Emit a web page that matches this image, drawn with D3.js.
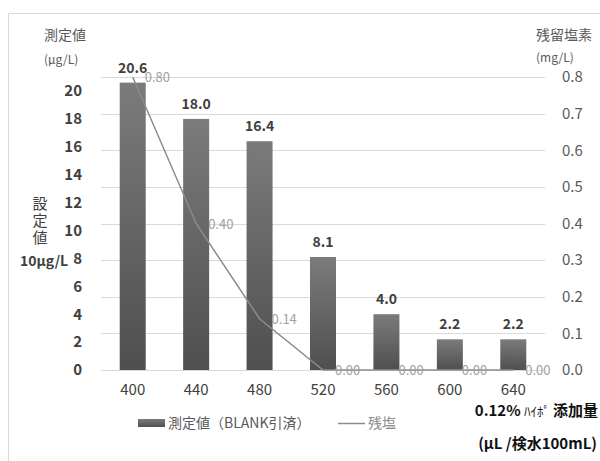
<!DOCTYPE html>
<html>
<head>
<meta charset="utf-8">
<style>
    body { margin: 0; background: #fff; }
    svg text { font-family: "Noto Sans CJK JP", "Noto Sans", sans-serif; }
</style>
</head>
<body>
<script src="https://cdn.jsdelivr.net/npm/d3@7"></script>
<script>
    // data
    var categories = ["400", "440", "480", "520", "560", "600", "640"];
    var measured = [20.6, 18.0, 16.4, 8.1, 4.0, 2.2, 2.2];          // μg/L
    var residual = [0.80, 0.40, 0.14, 0.00, 0.00, 0.00, 0.00];       // mg/L
    var leftTicks = [0, 2, 4, 6, 8, 10, 12, 14, 16, 18, 20];
    var rightTicks = [0, 0.1, 0.2, 0.3, 0.4, 0.5, 0.6, 0.7, 0.8];

    var width = 600, height = 461;

    var svg = d3.select("body").append("svg")
        .attr("width", width)
        .attr("height", height);

    // outer chart border (only top and left visible)
    svg.append("path")
        .attr("d", "M8.5,461V13.5H600")
        .attr("fill", "none")
        .attr("stroke", "#d9d9d9");

    var x = d3.scaleBand().domain(categories).range([101, 545]).paddingInner(0).paddingOuter(0);
    var yL = d3.scaleLinear().domain([0, 20]).range([370, 91]);
    var yR = d3.scaleLinear().domain([0, 0.8]).range([370, 77]);
    var barW = 26;

    var defs = svg.append("defs");
    var grad = defs.append("linearGradient").attr("id", "barGrad")
        .attr("x1", 0).attr("y1", 0).attr("x2", 0).attr("y2", 1);
    grad.append("stop").attr("offset", "0%").attr("stop-color", "#7b7b7b");
    grad.append("stop").attr("offset", "100%").attr("stop-color", "#4f4f4f");

    // gridlines follow the right axis
    svg.append("g").selectAll("line")
        .data(rightTicks)
        .enter().append("line")
        .attr("x1", 101).attr("x2", 545)
        .attr("y1", function (d) { return Math.round(yR(d)) + 0.5; })
        .attr("y2", function (d) { return Math.round(yR(d)) + 0.5; })
        .attr("stroke", "#d9d9d9")
        .attr("stroke-width", 1);

    // left axis
    var leftAxis = svg.append("g")
        .attr("transform", "translate(101,0)")
        .call(d3.axisLeft(yL).tickValues(leftTicks).tickSize(0).tickPadding(19));
    leftAxis.select(".domain").remove();
    leftAxis.selectAll("text")
        .attr("fill", "#404040")
        .style("font-size", "15px")
        .style("font-weight", "bold");

    // right axis
    var rightAxis = svg.append("g")
        .attr("transform", "translate(545,0)")
        .call(d3.axisRight(yR).tickValues(rightTicks).tickSize(0).tickPadding(17).tickFormat(d3.format(".1f")));
    rightAxis.select(".domain").remove();
    rightAxis.selectAll("text")
        .attr("fill", "#595959")
        .style("font-size", "15px");

    // bottom axis
    var bottomAxis = svg.append("g")
        .attr("transform", "translate(0,370)")
        .call(d3.axisBottom(x).tickSize(0).tickPadding(14));
    bottomAxis.select(".domain").remove();
    bottomAxis.selectAll("text")
        .attr("fill", "#404040")
        .style("font-size", "15px");

    // bars
    var bars = svg.append("g");
    bars.selectAll("rect")
        .data(measured)
        .enter().append("rect")
        .attr("x", function (d, i) { return x(categories[i]) + x.bandwidth() / 2 - barW / 2; })
        .attr("y", function (d) { return yL(d); })
        .attr("width", barW)
        .attr("height", function (d) { return yL(0) - yL(d); })
        .attr("fill", "url(#barGrad)");

    bars.selectAll("text")
        .data(measured)
        .enter().append("text")
        .attr("x", function (d, i) { return x(categories[i]) + x.bandwidth() / 2; })
        .attr("y", function (d) { return yL(d) - 10; })
        .attr("text-anchor", "middle")
        .attr("fill", "#404040")
        .style("font-size", "14px")
        .style("font-weight", "bold")
        .text(function (d) { return d.toFixed(1); });

    // residual chlorine line
    var line = d3.line()
        .x(function (d, i) { return x(categories[i]) + x.bandwidth() / 2; })
        .y(function (d) { return yR(d); });

    svg.append("path")
        .datum(residual)
        .attr("d", line)
        .attr("fill", "none")
        .attr("stroke", "#8c8c8c")
        .attr("stroke-width", 1.5);

    svg.append("g").selectAll("text")
        .data(residual)
        .enter().append("text")
        .attr("x", function (d, i) { return x(categories[i]) + x.bandwidth() / 2 + 12; })
        .attr("y", function (d) { return yR(d) + 5; })
        .attr("fill", "#a0a0a0")
        .style("font-size", "13px")
        .text(function (d) { return d.toFixed(2); });

    // axis titles
    function label(t, px, py, opts) {
        opts = opts || {};
        return svg.append("text")
            .attr("x", px).attr("y", py)
            .attr("text-anchor", opts.anchor || "start")
            .attr("fill", opts.color || "#595959")
            .style("font-size", (opts.size || 13) + "px")
            .style("font-weight", opts.weight || "normal")
            .text(t);
    }
    label("測定値", 44, 40, { size: 14 });
    label("(μg/L)", 44, 64, { size: 12 });
    label("残留塩素", 536, 40, { size: 14 });
    label("(mg/L)", 536, 62, { size: 12 });

    // "設定値 10μg/L" note at left, written vertically
    svg.append("text")
        .attr("x", 40).attr("y", 196)
        .attr("fill", "#404040")
        .style("font-size", "15px")
        .style("writing-mode", "vertical-rl")
        .style("letter-spacing", "2px")
        .text("設定値");
    label("10μg/L", 20, 266, { size: 14, color: "#404040", weight: "bold" });

    // x axis title
    var xt = svg.append("text")
        .attr("x", 598).attr("y", 416)
        .attr("text-anchor", "end")
        .attr("fill", "#111")
        .style("font-size", "15px")
        .style("font-weight", "bold");
    xt.append("tspan").text("0.12% ");
    xt.append("tspan").style("font-size", "13px").style("font-weight", "normal").text("ﾊｲﾎﾟ ");
    xt.append("tspan").text("添加量");
    label("(μL /検水100mL)", 597, 449, { size: 15, color: "#111", weight: "bold", anchor: "end" });

    // legend
    svg.append("rect")
        .attr("x", 138).attr("y", 419).attr("width", 27).attr("height", 8)
        .attr("fill", "url(#barGrad)");
    label("測定値（BLANK引済）", 168, 428, { size: 14 });
    svg.append("line")
        .attr("x1", 338).attr("x2", 365).attr("y1", 423.5).attr("y2", 423.5)
        .attr("stroke", "#8c8c8c").attr("stroke-width", 1.5);
    label("残塩", 368, 428, { size: 14, color: "#8c8c8c" });
</script>
</body>
</html>
